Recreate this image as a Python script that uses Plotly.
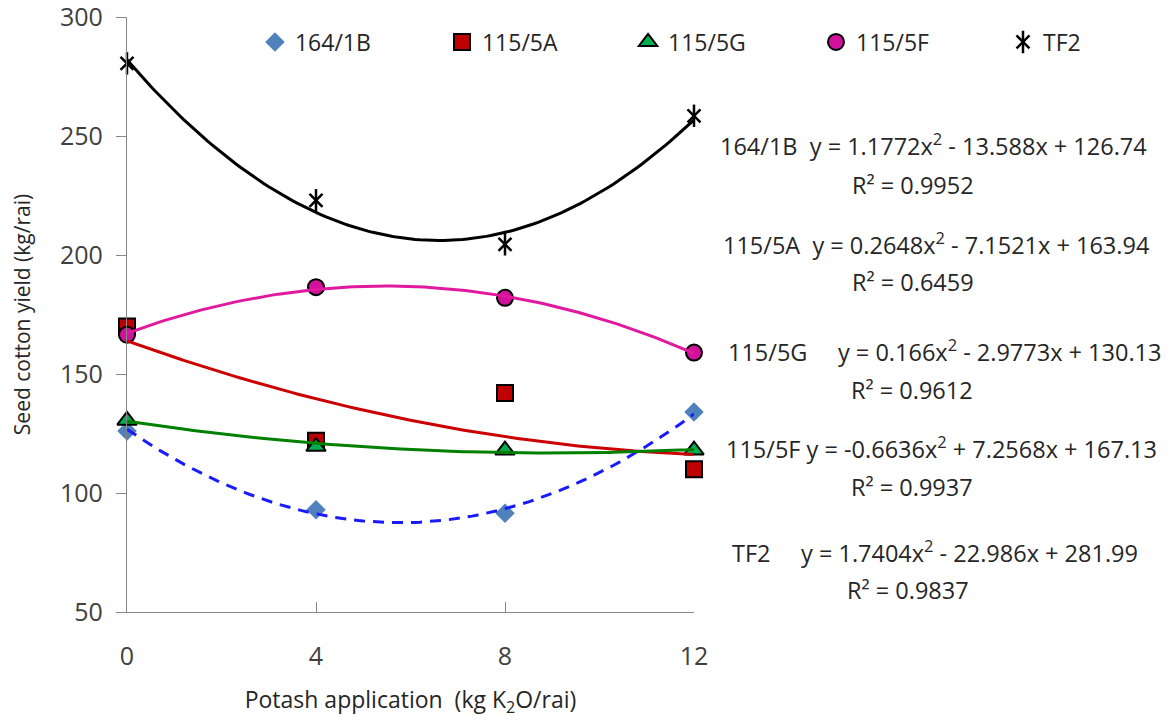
import numpy as np
import plotly.graph_objects as go

# ---- data ----
potash = [0, 4, 8, 12]
series_names = ["164/1B", "115/5A", "115/5G", "115/5F", "TF2"]
y_164_1B = [126, 93, 91.5, 134]
y_115_5A = [170, 122, 142, 110]
y_115_5G = [130.5, 119.5, 118, 118]
y_115_5F = [166.5, 186.5, 182, 159]
y_TF2 = [280.5, 223, 204.5, 258.5]

# trendline coefficients (a, b, c) for y = a x^2 + b x + c, as printed on chart
coef_164_1B = [1.1772, -13.588, 126.74]
coef_115_5A = [0.2648, -7.1521, 163.94]
coef_115_5G = [0.166, -2.9773, 130.13]
coef_115_5F = [-0.6636, 7.2568, 167.13]
coef_TF2 = [1.7404, -22.986, 281.99]

r2_values = ["0.9952", "0.6459", "0.9612", "0.9937", "0.9837"]
eq_texts = [
    "164/1B\u00a0\u00a0y = 1.1772x<sup>2</sup> - 13.588x + 126.74",
    "115/5A\u00a0\u00a0y = 0.2648x<sup>2</sup> - 7.1521x + 163.94",
    "115/5G\u00a0\u00a0\u00a0\u00a0\u00a0y = 0.166x<sup>2</sup> - 2.9773x + 130.13",
    "115/5F y = -0.6636x<sup>2</sup> + 7.2568x + 167.13",
    "TF2\u00a0\u00a0\u00a0\u00a0\u00a0y = 1.7404x<sup>2</sup> - 22.986x + 281.99",
]
x_ticks = [0, 4, 8, 12]
y_ticks = [50, 100, 150, 200, 250, 300]

FONT = "Open Sans"
TXT = "#262626"
AX = "#868686"

fig = go.Figure()

legend_ids = ["legend", "legend2", "legend3", "legend4", "legend5"]
marker_styles = [
    dict(symbol="diamond", size=15, color="#4f81bd", line=dict(width=0)),
    dict(symbol="square", size=16, color="#c00000", line=dict(width=2, color="black")),
    dict(symbol="triangle-up", size=17, color="#00b050", line=dict(width=2, color="black")),
    dict(symbol="circle", size=16, color="#d1119b", line=dict(width=2, color="black")),
    dict(symbol="x-thin-open", size=13, color="black", line=dict(width=2.5, color="black")),
]
ys = [y_164_1B, y_115_5A, y_115_5G, y_115_5F, y_TF2]
for name, yv, ms, lg in zip(series_names, ys, marker_styles, legend_ids):
    fig.add_trace(go.Scatter(x=potash, y=yv, mode="markers", name=name, legend=lg,
                             marker=ms, cliponaxis=False))
# vertical stroke completing the TF2 star marker (its legend symbol overlays the TF2 one)
fig.add_trace(go.Scatter(x=potash, y=y_TF2, mode="markers", name=" ", legend="legend6",
                         hoverinfo="skip",
                         marker=dict(symbol="line-ns-open", size=16, color="black",
                                     line=dict(width=2.5, color="black")),
                         cliponaxis=False))

# trendlines
xs = np.linspace(0, 12, 121)
line_styles = [
    dict(color="#1a1aff", width=3, dash="11px,8px"),
    dict(color="#cc0000", width=3),
    dict(color="#008000", width=3),
    dict(color="#e0199e", width=3),
    dict(color="black", width=3),
]
coefs = [coef_164_1B, coef_115_5A, coef_115_5G, coef_115_5F, coef_TF2]
for c, ls in zip(coefs, line_styles):
    fig.add_trace(go.Scatter(x=xs, y=np.polyval(c, xs), mode="lines", line=ls,
                             showlegend=False, hoverinfo="skip", cliponaxis=False))

# equation annotations
eq_pos = [(1.423, 0.785), (1.427, 0.620), (1.441, 0.4387), (1.437, 0.2773), (1.425, 0.1025)]
r2_pos = [(1.386, 0.7176), (1.386, 0.5546), (1.384, 0.3731), (1.384, 0.2101), (1.377, 0.037)]
for t, (x, y) in zip(eq_texts, eq_pos):
    fig.add_annotation(text=t, x=x, y=y, xref="paper", yref="paper", showarrow=False,
                       xanchor="center", yanchor="middle",
                       font=dict(family=FONT, size=23.5, color=TXT))
for r, (x, y) in zip(r2_values, r2_pos):
    fig.add_annotation(text="R² = " + r, x=x, y=y, xref="paper", yref="paper", showarrow=False,
                       xanchor="center", yanchor="middle",
                       font=dict(family=FONT, size=23.5, color=TXT))

legend_x = [0.2109, 0.3706, 0.5295, 0.6900, 0.8497, 0.8497]
legend_layout = {}
for lg, lx in zip(legend_ids + ["legend6"], legend_x):
    legend_layout[lg] = dict(orientation="h", xref="container", yref="container",
                             x=lx, y=0.9528, xanchor="left", yanchor="middle",
                             font=dict(family=FONT, size=23, color=TXT),
                             bgcolor="rgba(0,0,0,0)")

fig.update_layout(
    width=1171, height=720,
    margin=dict(l=119, r=485, t=9, b=116, autoexpand=False),
    paper_bgcolor="white", plot_bgcolor="white",
    font=dict(family=FONT, size=22, color=TXT),
    showlegend=True,
    **legend_layout,
)
fig.update_xaxes(range=[0, 12], tickvals=x_ticks, ticktext=[str(v) for v in x_ticks],
                 showgrid=False, zeroline=False, showline=True, linecolor=AX, linewidth=1.3,
                 ticks="inside", ticklen=10, tickcolor=AX, tickwidth=1.3,
                 ticklabelstandoff=22, ticklabeloverflow="allow",
                 tickfont=dict(family=FONT, size=25, color="#404040"),
                 title=dict(text="Potash application  (kg K<sub>2</sub>O/rai)", standoff=20,
                            font=dict(family=FONT, size=23, color=TXT)))
fig.update_yaxes(range=[50, 300], tickvals=y_ticks, ticktext=[str(v) for v in y_ticks],
                 showgrid=False, zeroline=False, showline=True, linecolor=AX, linewidth=1.3,
                 ticks="outside", ticklen=10, tickcolor=AX, tickwidth=1.3,
                 ticklabelstandoff=8, ticklabeloverflow="allow",
                 tickfont=dict(family=FONT, size=25, color="#404040"),
                 title=dict(text="Seed cotton yield (kg/rai)", standoff=26,
                            font=dict(family=FONT, size=21, color=TXT)))

fig.write_html("out.html")
